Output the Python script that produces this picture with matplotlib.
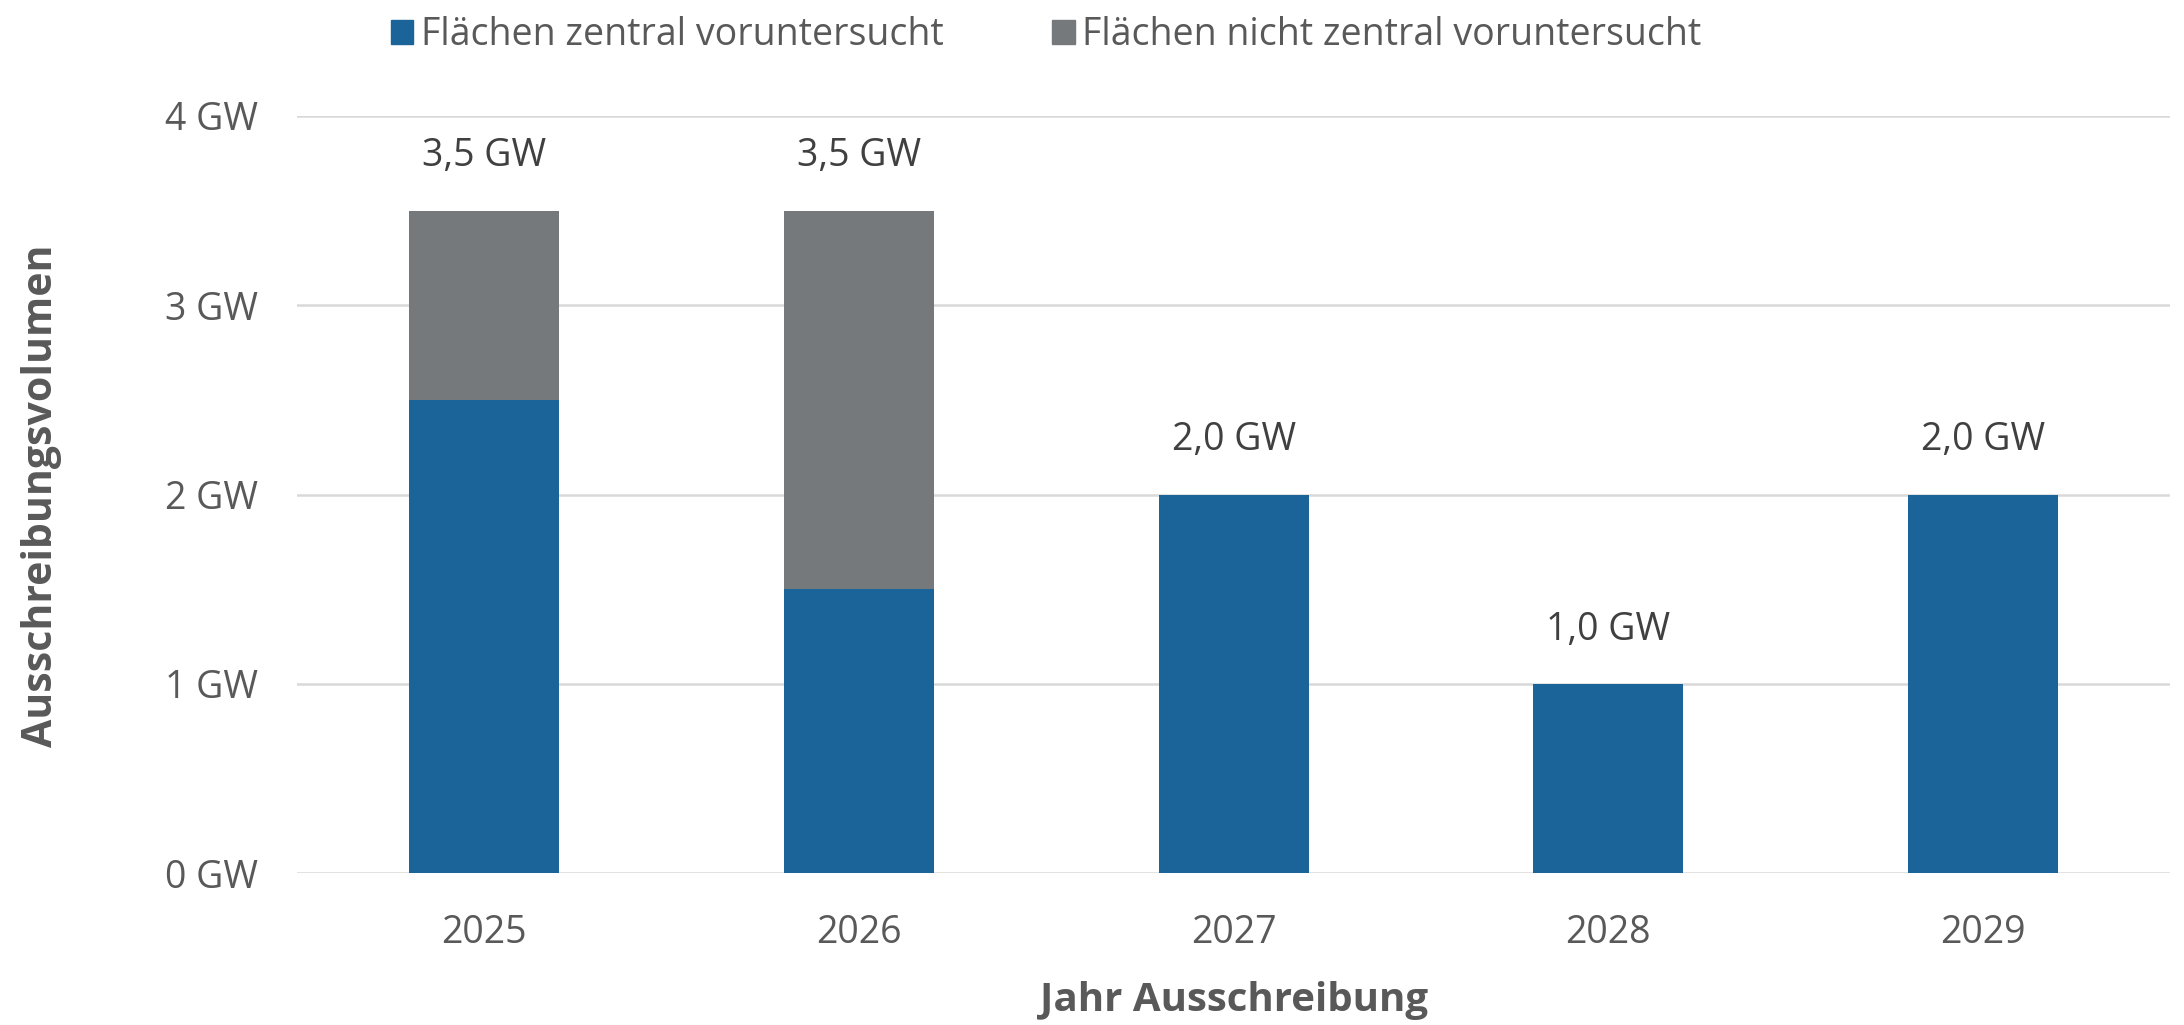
import numpy as np
import matplotlib
matplotlib.use("Agg")
import matplotlib.pyplot as plt
from matplotlib.patches import Patch

# Daten
jahre = ["2025", "2026", "2027", "2028", "2029"]
zentral = [2.5, 1.5, 2.0, 1.0, 2.0]
nicht_zentral = [1.0, 2.0, 0.0, 0.0, 0.0]
labels = ["3,5 GW", "3,5 GW", "2,0 GW", "1,0 GW", "2,0 GW"]
yticks = [0, 1, 2, 3, 4]
ytick_labels = ["0 GW", "1 GW", "2 GW", "3 GW", "4 GW"]

blau = "#1a6499"
grau = "#76797b"
textgrau = "#595959"

plt.rcParams['font.family'] = ['Open Sans', 'DejaVu Sans']

fig = plt.figure(figsize=(21.84, 10.25), dpi=100)
ax = fig.add_axes([0.136, 0.148, 0.8577, 0.739])

x = np.arange(len(jahre))
ax.bar(x, zentral, width=0.4, color=blau, zorder=2)
ax.bar(x, nicht_zentral, width=0.4, bottom=zentral, color=grau, zorder=2)

gesamt = np.array(zentral) + np.array(nicht_zentral)
for xi, g, lab in zip(x, gesamt, labels):
    ax.annotate(lab, (xi, g), xytext=(0, 39), textcoords="offset points",
                ha="center", va="center", fontsize=27, color="#404040")

ax.set_xlim(-0.5, 4.5)
ax.set_ylim(0, 4)
ax.set_xticks(x)
ax.set_xticklabels(jahre)
ax.set_yticks(yticks)
ax.set_yticklabels(ytick_labels)
ax.tick_params(axis="both", length=0, labelsize=27, labelcolor=textgrau)
ax.tick_params(axis="x", pad=29)
ax.tick_params(axis="y", pad=28)
ax.grid(axis="y", color="#d9d9d9", linewidth=1.8, zorder=0)
ax.set_axisbelow(True)
for s in ax.spines.values():
    s.set_visible(False)

fig.text(0.565, 0.024, "Jahr Ausschreibung", ha="center", va="center",
         fontsize=29, fontweight="bold", color=textgrau)
fig.text(0.019, 0.516, "Ausschreibungsvolumen", ha="center", va="center",
         rotation=90, fontsize=29.5, fontweight="bold", color=textgrau)

handles = [Patch(color=blau, label="Flächen zentral voruntersucht"),
           Patch(color=grau, label="Flächen nicht zentral voruntersucht")]
fig.legend(handles=handles, loc="center", bbox_to_anchor=(0.479, 0.966), ncol=2,
           frameon=False, fontsize=27, labelcolor=textgrau,
           handlelength=0.6, handleheight=0.6, handletextpad=0.2,
           columnspacing=2.9)

fig.savefig("out.png", dpi=100)
